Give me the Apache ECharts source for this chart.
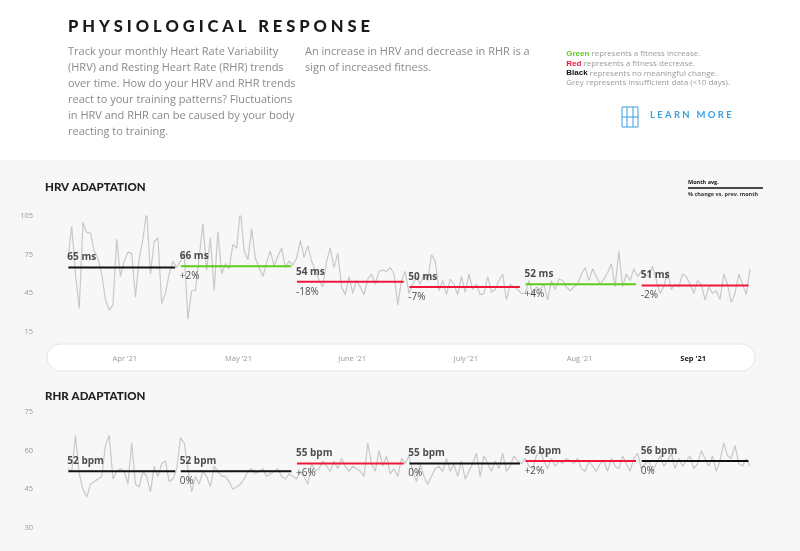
<!DOCTYPE html>
<html>
<head>
<meta charset="utf-8">
<script src="https://cdn.jsdelivr.net/npm/echarts@6/dist/echarts.min.js"></script>
<style>
  html, body { margin: 0; padding: 0; background: #f7f7f7; }
  #chart { width: 800px; height: 551px; }
</style>
</head>
<body>
<div id="chart"></div>
<script>
var months = ["Apr '21", "May '21", "June '21", "July '21", "Aug '21", "Sep '21"];

// daily values per month
var hrvDaily = [
  [72, 97, 60, 33, 100, 92, 92, 78, 72, 60, 40, 32, 36, 87, 58, 70, 77, 76, 42, 72, 87, 109, 60, 85, 88, 37, 45, 60, 70, 65],
  [70, 77, 25, 47, 47, 73, 99, 63, 88, 47, 93, 60, 68, 64, 83, 80, 110, 78, 71, 95, 72, 65, 58, 69, 78, 66, 74, 80, 65, 70, 67],
  [72, 86, 73, 82, 70, 63, 55, 50, 70, 80, 65, 76, 50, 44, 58, 45, 55, 50, 44, 56, 60, 52, 62, 63, 62, 65, 60, 36, 55, 62],
  [45, 52, 58, 52, 60, 55, 75, 70, 47, 55, 44, 56, 52, 44, 58, 46, 60, 48, 52, 44, 45, 58, 46, 48, 55, 60, 40, 52, 50, 48, 45],
  [45, 55, 44, 50, 48, 52, 40, 55, 48, 56, 55, 50, 47, 50, 52, 60, 65, 55, 64, 58, 52, 56, 61, 68, 50, 78, 50, 60, 55, 64, 58],
  [62, 60, 58, 66, 55, 45, 50, 62, 48, 52, 50, 60, 58, 52, 45, 55, 52, 40, 50, 45, 47, 40, 60, 52, 38, 45, 60, 52, 44, 64]
];
var rhrDaily = [
  [53, 52, 66, 51, 45, 42, 47, 48, 49, 50, 62, 66, 49, 52, 53, 52, 47, 63, 47, 46, 52, 50, 44, 54, 50, 55, 56, 48, 49, 53],
  [65, 63, 53, 44, 50, 47, 52, 50, 46, 54, 52, 50, 50, 48, 45, 46, 47, 49, 52, 53, 51, 52, 53, 50, 51, 52, 53, 50, 49, 51, 50],
  [49, 52, 50, 47, 55, 52, 53, 56, 54, 52, 56, 53, 57, 54, 52, 54, 53, 52, 50, 63, 55, 52, 60, 54, 58, 51, 53, 50, 57, 55],
  [58, 52, 48, 55, 50, 47, 50, 53, 54, 52, 57, 52, 55, 50, 56, 49, 52, 55, 59, 50, 58, 55, 52, 56, 53, 59, 52, 54, 58, 56, 55],
  [57, 54, 53, 58, 60, 56, 53, 57, 54, 56, 55, 57, 56, 55, 57, 53, 52, 56, 54, 52, 55, 56, 52, 57, 54, 53, 58, 55, 52, 57, 59],
  [53, 55, 56, 52, 55, 58, 54, 56, 59, 53, 57, 54, 56, 58, 53, 55, 60, 57, 54, 58, 52, 56, 63, 58, 57, 62, 55, 54, 57, 54]
];

var hrvAvg = [65, 66, 54, 50, 52, 51];
var hrvPct = ['', '+2%', '-18%', '-7%', '+4%', '-2%'];
var hrvTrend = ['k', 'g', 'r', 'r', 'g', 'r'];
var rhrAvg = [52, 52, 55, 55, 56, 56];
var rhrPct = ['', '0%', '+6%', '0%', '+2%', '0%'];
var rhrTrend = ['k', 'k', 'r', 'k', 'r', 'k'];

var trendColor = { g: '#5ccc1c', r: '#f0173a', k: '#111111' };

var starts = [];
var total = 0;
hrvDaily.forEach(function(m) { starts.push(total); total += m.length; });

function flat(daily) {
  var out = [];
  daily.forEach(function(m, mi) {
    m.forEach(function(v, di) { out.push([starts[mi] + di, v]); });
  });
  return out;
}

function buildSeries(idx, daily, avg, pct, trend, unit) {
  var list = [{
    type: 'line', xAxisIndex: idx, yAxisIndex: idx, data: flat(daily),
    showSymbol: false, lineStyle: { color: '#c8c8c8', width: 1.2 }, z: 2, silent: true
  }];
  avg.forEach(function(a, i) {
    var s = starts[i], e = starts[i] + daily[i].length - 1;
    list.push({
      type: 'line', xAxisIndex: idx, yAxisIndex: idx,
      data: [[s + 0.1, a], [e - 0.4, a]],
      showSymbol: false, lineStyle: { color: trendColor[trend[i]], width: 2 }, z: 3, silent: true
    });
  });
  list.push({
    type: 'scatter', xAxisIndex: idx, yAxisIndex: idx, symbolSize: 0, z: 4, silent: true,
    data: avg.map(function(a, i) { return [starts[i] + 0.1, a]; }),
    label: {
      show: true, position: 'right', distance: -1,
      formatter: function(p) {
        var i = p.dataIndex;
        return '{a|' + avg[i] + ' ' + unit + '}\n{b|' + (pct[i] || ' ') + '}';
      },
      rich: {
        a: { fontSize: 10, fontWeight: 'bold', color: '#222', lineHeight: 20, fontFamily: 'Open Sans' },
        b: { fontSize: 10, color: '#222', lineHeight: 20, fontFamily: 'Open Sans' }
      }
    }
  });
  return list;
}

var grey = '#8a8a8a';
var hdr = { fontFamily: 'Open Sans', fontSize: 11, fill: grey, lineHeight: 16 };

var chart = echarts.init(document.getElementById('chart'));
var option = {
  backgroundColor: '#f7f7f7',
  animation: false,
  graphic: [
    { type: 'rect', z: -10, shape: { x: 0, y: 0, width: 800, height: 160 }, style: { fill: '#ffffff' } },
    { type: 'text', left: 68, top: 18, style: { text: 'P H Y S I O L O G I C A L   R E S P O N S E', fontFamily: 'Lato', fontWeight: 900, fontSize: 16.5, fill: '#1a1a1a' } },
    { type: 'text', left: 68, top: 44, style: Object.assign({ text: 'Track your monthly Heart Rate Variability\n(HRV) and Resting Heart Rate (RHR) trends\nover time. How do your HRV and RHR trends\nreact to your training patterns? Fluctuations\nin HRV and RHR can be caused by your body\nreacting to training.' }, hdr) },
    { type: 'text', left: 305, top: 44, style: Object.assign({ text: 'An increase in HRV and decrease in RHR is a\nsign of increased fitness.' }, hdr) },
    { type: 'text', right: 70, top: 49, style: {
        text: '{g|Green} represents a fitness increase.\n{r|Red} represents a fitness decrease.\n{k|Black} represents no meaningful change.\nGrey represents insufficient data (<10 days).',
        align: 'right', fontFamily: 'Open Sans', fontSize: 8, fill: '#9a9a9a', lineHeight: 9.7,
        rich: { g: { fill: '#5ccc1c', fontWeight: 'bold', fontSize: 8 }, r: { fill: '#f0173a', fontWeight: 'bold', fontSize: 8 }, k: { fill: '#111', fontWeight: 'bold', fontSize: 8 } }
      } },
    { type: 'rect', shape: { x: 622, y: 107, width: 16, height: 20 }, style: { fill: 'none', stroke: '#3aa0e0', lineWidth: 1 } },
    { type: 'line', shape: { x1: 627, y1: 107, x2: 627, y2: 127 }, style: { stroke: '#3aa0e0', lineWidth: 1 } },
    { type: 'line', shape: { x1: 633, y1: 107, x2: 633, y2: 127 }, style: { stroke: '#3aa0e0', lineWidth: 1 } },
    { type: 'line', shape: { x1: 622, y1: 117, x2: 638, y2: 117 }, style: { stroke: '#3aa0e0', lineWidth: 1 } },
    { type: 'text', left: 650, top: 110, style: { text: 'L E A R N   M O R E', fontFamily: 'Lato', fontWeight: 'bold', fontSize: 9.5, fill: '#3aa0e0' } },

    { type: 'text', left: 45, top: 181, style: { text: 'HRV ADAPTATION', fontFamily: 'Lato', fontWeight: 900, fontSize: 11.5, fill: '#222' } },
    { type: 'text', left: 45, top: 390, style: { text: 'RHR ADAPTATION', fontFamily: 'Lato', fontWeight: 900, fontSize: 11.5, fill: '#222' } },
    { type: 'text', left: 688, top: 179, style: { text: 'Month avg.', fontFamily: 'Open Sans', fontWeight: 'bold', fontSize: 5.5, fill: '#111' } },
    { type: 'line', shape: { x1: 688, y1: 188, x2: 763, y2: 188 }, style: { stroke: '#111', lineWidth: 1.5 } },
    { type: 'text', left: 688, top: 191, style: { text: '% change vs. prev. month', fontFamily: 'Open Sans', fontWeight: 'bold', fontSize: 5.5, fill: '#333' } },
    { type: 'rect', z: -5, shape: { x: 47, y: 344, width: 708, height: 27, r: 13.5 }, style: { fill: '#ffffff', stroke: '#e6e6e6', lineWidth: 1 } }
  ],
  grid: [
    { left: 68, right: 50, top: 216, height: 116 },
    { left: 68, right: 50, top: 412, height: 116 }
  ],
  xAxis: [
    { gridIndex: 0, type: 'value', min: 0, max: total - 1, show: false },
    { gridIndex: 1, type: 'value', min: 0, max: total - 1, show: false },
    { gridIndex: 0, type: 'category', data: months, boundaryGap: true, position: 'bottom',
      axisLine: { show: false }, axisTick: { show: false },
      axisLabel: { margin: 23, fontFamily: 'Open Sans', fontSize: 7.5, color: '#999',
        formatter: function(v, i) { return i === 5 ? '{s|' + v + '}' : v; },
        rich: { s: { fontWeight: 'bold', color: '#222', fontSize: 7.5, fontFamily: 'Open Sans' } } } }
  ],
  yAxis: [
    { gridIndex: 0, type: 'value', min: 15, max: 105, interval: 30,
      splitLine: { show: false }, axisLine: { show: false }, axisTick: { show: false },
      axisLabel: { margin: 35, fontFamily: 'Open Sans', fontSize: 7.5, color: '#999' } },
    { gridIndex: 1, type: 'value', min: 30, max: 75, interval: 15,
      splitLine: { show: false }, axisLine: { show: false }, axisTick: { show: false },
      axisLabel: { margin: 35, fontFamily: 'Open Sans', fontSize: 7.5, color: '#999' } }
  ],
  series: buildSeries(0, hrvDaily, hrvAvg, hrvPct, hrvTrend, 'ms')
    .concat(buildSeries(1, rhrDaily, rhrAvg, rhrPct, rhrTrend, 'bpm'))
};
chart.setOption(option);
</script>
</body>
</html>
